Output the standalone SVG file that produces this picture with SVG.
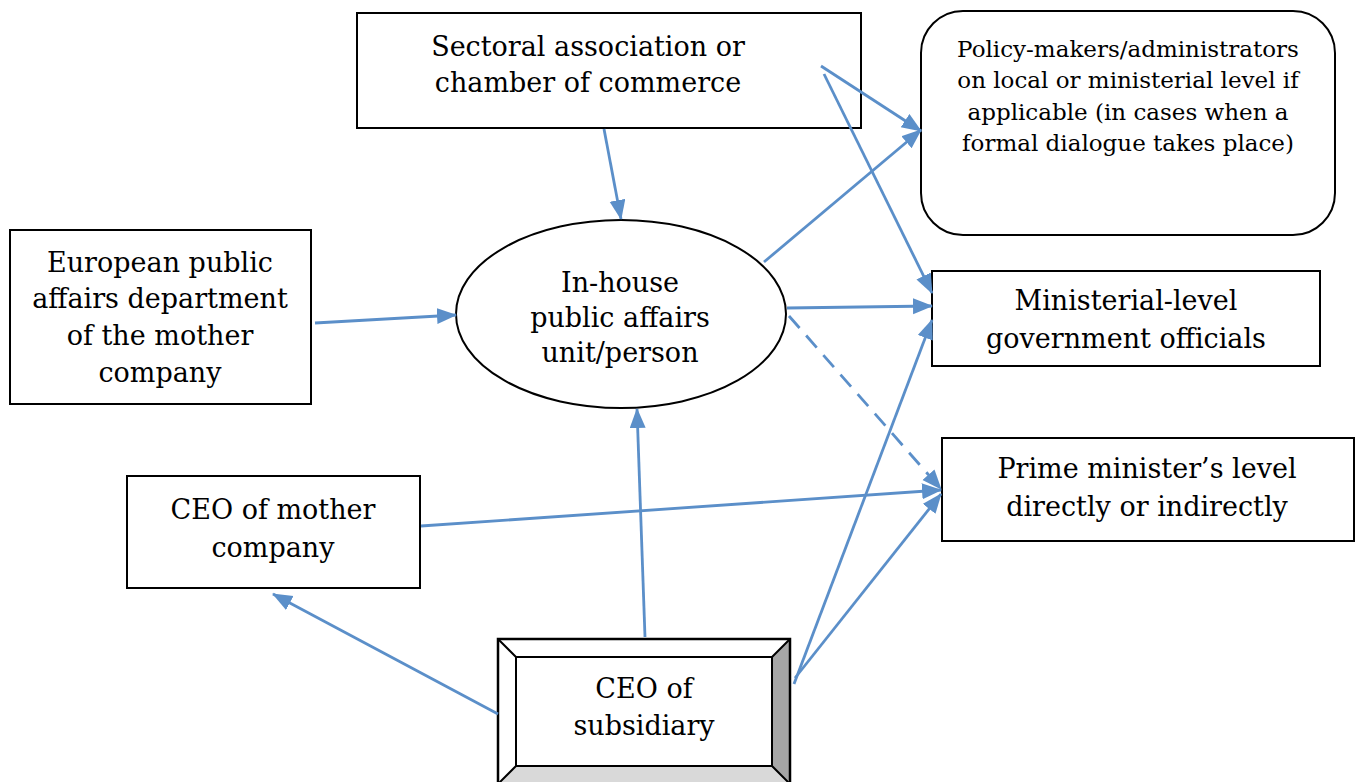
<svg xmlns="http://www.w3.org/2000/svg" width="1360" height="782" viewBox="0 0 1360 782">
<style>
.box{fill:#fff;stroke:#000;stroke-width:2}
.t{font-family:"DejaVu Serif","Liberation Serif",serif;font-size:27px;fill:#000;text-anchor:middle}
.ts{font-family:"DejaVu Serif","Liberation Serif",serif;font-size:23px;fill:#000;text-anchor:middle}
.c{stroke:#5B8FC9;stroke-width:2.8;fill:none}
.d{stroke-dasharray:16 10}
</style>
<defs>
<marker id="ah" markerUnits="userSpaceOnUse" markerWidth="22" markerHeight="18" refX="19" refY="8" orient="auto">
<path d="M0,0 L20,8 L0,16 z" fill="#5B8FC9"/>
</marker>
</defs>
<rect width="1360" height="782" fill="#fff"/>
<g id="sectoral">
<rect class="box" x="357" y="13" width="504" height="115"/>
<text class="t" x="588" y="56">Sectoral association or</text>
<text class="t" x="588" y="92">chamber of commerce</text>
</g>
<g id="policy">
<rect class="box" x="921" y="11" width="414" height="224" rx="42"/>
<text class="ts" x="1128" y="57">Policy-makers/administrators</text>
<text class="ts" x="1128" y="88">on local or ministerial level if</text>
<text class="ts" x="1128" y="120">applicable (in cases when a</text>
<text class="ts" x="1128" y="151">formal dialogue takes place)</text>
</g>
<g id="ministerial">
<rect class="box" x="932" y="271" width="388" height="95"/>
<text class="t" x="1126" y="310">Ministerial-level</text>
<text class="t" x="1126" y="348">government officials</text>
</g>
<g id="prime">
<rect class="box" x="942" y="438" width="412" height="103"/>
<text class="t" x="1147" y="478">Prime minister’s level</text>
<text class="t" x="1147" y="516">directly or indirectly</text>
</g>
<g id="european">
<rect class="box" x="10" y="230" width="301" height="174"/>
<text class="t" x="160" y="272">European public</text>
<text class="t" x="160" y="308">affairs department</text>
<text class="t" x="160" y="345">of the mother</text>
<text class="t" x="160" y="382">company</text>
</g>
<g id="inhouse">
<ellipse class="box" cx="621" cy="314" rx="165" ry="94"/>
<text class="t" x="620" y="292">In-house</text>
<text class="t" x="620" y="327">public affairs</text>
<text class="t" x="620" y="362">unit/person</text>
</g>
<g id="ceo-mother">
<rect class="box" x="127" y="476" width="293" height="112"/>
<text class="t" x="273" y="519">CEO of mother</text>
<text class="t" x="273" y="557">company</text>
</g>
<g id="ceo-sub">
<rect x="498" y="639" width="292" height="145" fill="#fff"/>
<polygon points="498,784 516,766 772,766 790,784" fill="#d9d9d9"/>
<polygon points="790,639 772,657 772,766 790,784" fill="#a6a6a6"/>
<rect x="498" y="639" width="292" height="145" fill="none" stroke="#000" stroke-width="2.5"/>
<rect x="516" y="657" width="256" height="109" fill="none" stroke="#000" stroke-width="2"/>
<path d="M498,639 L516,657 M790,639 L772,657 M498,784 L516,766 M790,784 L772,766" stroke="#000" stroke-width="2"/>
<text class="t" x="644" y="698">CEO of</text>
<text class="t" x="644" y="735">subsidiary</text>
</g>
<g id="connectors">
<line class="c" x1="604" y1="129" x2="621" y2="219" marker-end="url(#ah)"/>
<line class="c" x1="315" y1="323" x2="456" y2="315" marker-end="url(#ah)"/>
<line class="c" x1="787" y1="308" x2="932" y2="306" marker-end="url(#ah)"/>
<line class="c" x1="764" y1="262" x2="921" y2="130" marker-end="url(#ah)"/>
<line class="c" x1="821" y1="66" x2="921" y2="131" marker-end="url(#ah)"/>
<line class="c" x1="824" y1="74" x2="932" y2="293" marker-end="url(#ah)"/>
<line class="c d" x1="789" y1="316" x2="941" y2="489" marker-end="url(#ah)"/>
<line class="c" x1="421" y1="526" x2="941" y2="490" marker-end="url(#ah)"/>
<line class="c" x1="795" y1="678" x2="941" y2="494" marker-end="url(#ah)"/>
<line class="c" x1="794" y1="684" x2="932" y2="320" marker-end="url(#ah)"/>
<line class="c" x1="645" y1="637" x2="637" y2="409" marker-end="url(#ah)"/>
<line class="c" x1="498" y1="714" x2="273" y2="594" marker-end="url(#ah)"/>
</g>
</svg>
